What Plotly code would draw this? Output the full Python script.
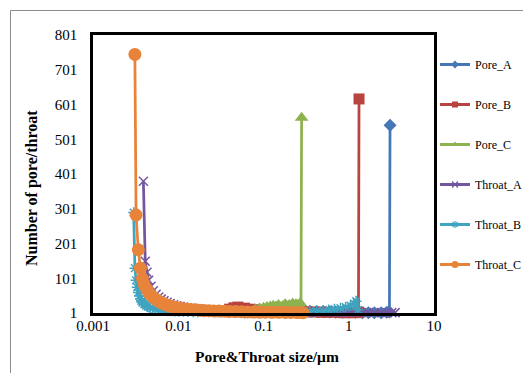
import plotly.graph_objects as go

# ---- data ----
pore_a_x = [0.06, 0.07, 0.08, 0.095, 0.11, 0.13, 0.15, 0.18, 0.21, 0.25, 0.3, 0.35, 0.42, 0.5, 0.6, 0.7,
            0.85, 1.0, 1.2, 1.45, 1.7, 2.0, 2.4, 2.8, 3.0, 3.05]
pore_a_y = [3, 4, 5, 4, 6, 8, 10, 12, 9, 8, 7, 6, 5, 5, 4, 4, 3, 3, 3, 2, 2, 2, 2, 3, 4, 541]

pore_b_x = [0.04, 0.045, 0.05, 0.06, 0.07, 0.08, 0.09, 0.1, 0.12, 0.14, 0.17, 0.2, 0.24, 0.28, 0.33, 0.4,
            0.48, 0.56, 0.66, 0.78, 0.9, 1.05, 1.2, 1.3, 1.32]
pore_b_y = [12, 16, 18, 15, 12, 10, 9, 8, 8, 7, 6, 6, 5, 5, 4, 4, 3, 3, 3, 2, 2, 2, 2, 3, 617]

pore_c_x = [0.08, 0.09, 0.1, 0.11, 0.12, 0.13, 0.14, 0.15, 0.16, 0.17, 0.18, 0.19, 0.2, 0.21, 0.22, 0.23,
            0.24, 0.25, 0.26, 0.27, 0.275, 0.28]
pore_c_y = [10, 14, 16, 18, 20, 22, 20, 24, 18, 22, 26, 20, 24, 22, 28, 20, 26, 24, 22, 30, 5, 563]

throat_a_x = [0.0039, 0.0041, 0.0043, 0.0045, 0.0048, 0.0051, 0.0055, 0.0059, 0.0063, 0.0068, 0.0074, 0.008,
              0.0088, 0.0096, 0.0105, 0.0115, 0.0127, 0.014, 0.0155, 0.017, 0.019, 0.021, 0.024, 0.027,
              0.03, 0.034, 0.039, 0.045, 0.052, 0.06, 0.07, 0.08, 0.095, 0.11, 0.13, 0.15, 0.18, 0.21,
              0.25, 0.3, 0.36, 0.43, 0.5, 0.6, 0.72, 0.85, 1.0, 1.2, 1.4, 1.7, 2.0, 2.4, 2.8, 3.2, 3.5]
throat_a_y = [380, 150, 118, 95, 78, 65, 55, 47, 41, 36, 32, 28, 25, 22, 20, 18, 16, 14.5, 13, 12, 11, 10,
              9.5, 9, 8.5, 8, 7.5, 7, 6.5, 6, 6, 5.5, 5, 5, 4.5, 4.5, 4, 4, 4, 3.5, 3.5, 3, 3, 3, 3, 3,
              2.5, 2.5, 2.5, 2.5, 2, 2, 2, 2, 2]

throat_b_x = [0.0030, 0.0031, 0.0032, 0.0033, 0.0034, 0.0035, 0.0036, 0.0037, 0.0038, 0.0040, 0.0042,
              0.0044, 0.0047, 0.005, 0.0054, 0.0058, 0.0063, 0.0068, 0.0075, 0.0083, 0.0092, 0.0102,
              0.0115, 0.013, 0.015, 0.017, 0.02, 0.023, 0.027, 0.032, 0.038, 0.045, 0.053, 0.063, 0.075,
              0.09, 0.105, 0.125, 0.15, 0.18, 0.21, 0.25, 0.3, 0.35, 0.42, 0.5, 0.58, 0.68, 0.8, 0.92,
              1.05, 1.15, 1.22, 1.28]
throat_b_y = [290, 130, 95, 75, 60, 50, 42, 36, 31, 26, 22, 19, 16, 14, 12, 10.5, 9.5, 8.5, 7.5, 7, 6.5,
              6, 5.5, 5, 4.5, 4.5, 4, 4, 3.5, 3.5, 3, 3, 3, 3, 2.5, 2.5, 2.5, 3, 3, 3.5, 4, 4.5, 5, 6, 7,
              8, 10, 12, 15, 18, 22, 28, 35, 10]

throat_c_x = [0.0031, 0.0032, 0.0034, 0.0036, 0.0038, 0.0040, 0.0043, 0.0046, 0.0050, 0.0054, 0.0058,
              0.0063, 0.0068, 0.0074, 0.0080, 0.0087, 0.0095, 0.0104, 0.0114, 0.0125, 0.014, 0.016,
              0.018, 0.020, 0.023, 0.026, 0.030, 0.035, 0.040, 0.047, 0.055, 0.065, 0.077, 0.090,
              0.105, 0.125, 0.15, 0.18, 0.21, 0.25, 0.29]
throat_c_y = [745, 283, 183, 130, 100, 82, 68, 57, 48, 41, 36, 31, 27, 24, 21, 19, 17, 15, 13.5, 12, 11,
              10, 9, 8, 7.5, 7, 6.5, 6, 5.5, 5, 4.6, 4.2, 3.8, 3.5, 3.2, 3, 2.8, 2.6, 2.4, 2.2, 2]

series_names = ["Pore_A", "Pore_B", "Pore_C", "Throat_A", "Throat_B", "Throat_C"]
x_tick_vals = [0.001, 0.01, 0.1, 1, 10]
x_tick_text = ["0.001", "0.01", "0.1", "1", "10"]
y_tick_vals = [1, 101, 201, 301, 401, 501, 601, 701, 801]

# ---- styling ----
colors = ["#4576B5", "#B8433F", "#8EB24F", "#7356A0", "#3FA4C0", "#E8843A"]
symbols = ["diamond", "square", "triangle-up", "x-thin-open", "asterisk-open", "circle"]
msizes = [10, 11, 12, 9, 9, 13]
leg_sizes = [6, 6, 6, 6, 6, 7]
xs = [pore_a_x, pore_b_x, pore_c_x, throat_a_x, throat_b_x, throat_c_x]
ys = [pore_a_y, pore_b_y, pore_c_y, throat_a_y, throat_b_y, throat_c_y]

FONT = "Liberation Serif"

# the page body has an 8px margin: the figure is laid out in page pixels minus 8
OFF = 8
PL, PR, PT, PB = 93, 434, 35, 313          # plot area in page pixels
W, H = 531 - OFF, 381 - 2 * OFF
PW, PH = PR - PL, PB - PT


def px(xp):
    return (xp - PL) / PW


def py(yp):
    return (PB - yp) / PH


fig = go.Figure()
for i, name in enumerate(series_names):
    open_sym = symbols[i].endswith("open")
    fig.add_trace(go.Scatter(
        x=xs[i], y=ys[i], name=name, mode="lines+markers",
        legendgroup=name, showlegend=False,
        line=dict(color=colors[i], width=2.75),
        marker=dict(symbol=symbols[i], size=msizes[i], color=colors[i],
                    line=dict(color=colors[i], width=1.5 if open_sym else 0)),
        cliponaxis=False,
    ))
# legend-only entries with smaller markers (as in the original legend)
for i, name in enumerate(series_names):
    open_sym = symbols[i].endswith("open")
    fig.add_trace(go.Scatter(
        x=[None], y=[None], name=name, mode="lines+markers",
        legendgroup=name, showlegend=True,
        line=dict(color=colors[i], width=3),
        marker=dict(symbol=symbols[i], size=leg_sizes[i], color=colors[i],
                    line=dict(color=colors[i], width=1.2 if open_sym else 0)),
    ))

fig.update_layout(
    width=W, height=H,
    margin=dict(l=PL - OFF, r=W - (PR - OFF), t=PT - OFF, b=H - (PB - OFF), autoexpand=False),
    paper_bgcolor="white", plot_bgcolor="white",
    font=dict(family=FONT, size=15, color="black"),
    showlegend=True,
    legend=dict(x=px(435), xanchor="left", y=py(50), yanchor="top",
                tracegroupgap=21, font=dict(family=FONT, size=12, color="black"),
                itemwidth=30, bgcolor="rgba(0,0,0,0)", borderwidth=0),
    xaxis=dict(type="log", range=[-3, 1], tickvals=x_tick_vals, ticktext=x_tick_text,
               showgrid=False, zeroline=False, showline=True, linecolor="black", linewidth=2.5,
               mirror=True, ticks="",
               tickfont=dict(family=FONT, size=15, color="black")),
    yaxis=dict(range=[1, 801], tickvals=y_tick_vals,
               showgrid=False, zeroline=False, showline=True, linecolor="black", linewidth=2.5,
               mirror=True, ticks="", ticklabelstandoff=10,
               tickfont=dict(family=FONT, size=15, color="black")),
    annotations=[
        dict(text="<b>Pore&amp;Throat size/μm</b>", xref="paper", yref="paper",
             x=px(267), y=py(356), showarrow=False,
             xanchor="center", yanchor="middle",
             font=dict(family=FONT, size=15.5, color="black")),
        dict(text="<b>Number of pore/throat</b>", xref="paper", yref="paper",
             x=px(32), y=py(188), showarrow=False, textangle=-90,
             xanchor="center", yanchor="middle",
             font=dict(family=FONT, size=16, color="black")),
    ],
    shapes=[
        dict(type="rect", xref="paper", yref="paper",
             x0=px(10.5), x1=px(545), y0=py(395), y1=py(10.5),
             line=dict(color="#8C8C8C", width=1), fillcolor="rgba(0,0,0,0)", layer="below"),
    ],
)
try:
    fig.update_xaxes(ticklabelstandoff=-3)
except ValueError:
    fig.update_xaxes(ticklabelstandoff=0)

fig.write_html("out.html")
